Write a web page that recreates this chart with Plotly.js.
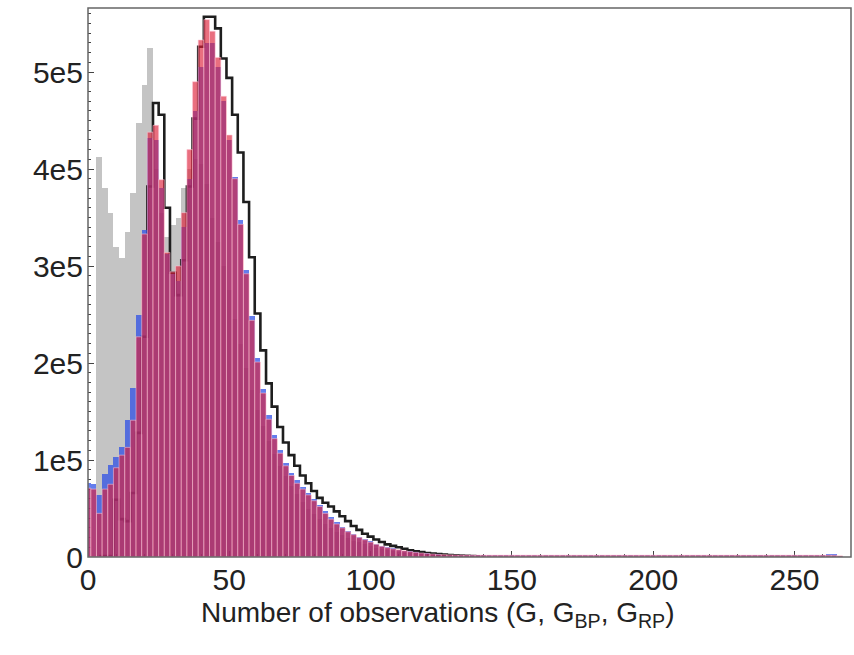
<!DOCTYPE html>
<html>
<head>
<meta charset="utf-8">
<script src="https://cdn.plot.ly/plotly-3.0.1.min.js"></script>
<style>html,body{margin:0;padding:0;background:#fff;}#chart{width:854px;height:655px;}</style>
</head>
<body>
<div id="chart"></div>
<script>
// Bin centres (bin width 2)
const binCenters = [0,2,4,6,8,10,12,14,16,18,20,22,24,26,28,30,32,34,36,38,40,42,44,46,48,50,52,54,56,58,60,62,64,66,68,70,72,74,76,78,80,82,84,86,88,90,92,94,96,98,100,102,104,106,108,110,112,114,116,118,120,122,124,126,128,130,132,134,136,138,140,142,144,146,148,150,152,154,156,158,160,162,164,166,168,170,172,174,176,178,180,182,184,186,188,190,192,194,196,198,200,202,204,206,208,210,212,214,216,218,220,222,224,226,228,230,232,234,236,238,240,242,244,246,248,250,252,254,256,258,260,262,264,266];

// Grey histogram (counts)
const greyCounts = [0,0,412000,380000,355000,320000,308000,335000,375000,447000,487000,525000,400000,355000,330000,342000,350000,380000,400000,410000,405000,385000,350000,325000,300000,275000,245000,220000,195000,172000,152000,135000,120000,106000,94000,83000,73000,65000,57000,50000,44000,39000,34000,30000,26000,23000,20000,17000,15000,13000,11000,9500,8000,7000,6000,5000,4300,3700,3100,2600,2200,1900,1600,1400,1200,1000,900,800,700,600,500,0,0,0,0,0,0,0,0,0,0,0,0,0,0,0,0,0,0,0,0,0,0,0,0,0,0,0,0,0,0,0,0,0,0,0,0,0,0,0,0,0,0,0,0,0,0,0,0,0,0,0,0,0,0,0,0,0,0,0,0,0,0,0];

// G_BP (blue)
const blueCounts = [76000,75000,64000,86000,95000,103000,113000,141000,174000,250000,337000,432000,430000,380000,312000,292000,285000,340000,390000,460000,505000,530000,530000,505000,470000,430000,392000,347000,296000,248000,205000,173000,146000,126000,110000,97000,87000,79000,72000,66000,60000,54000,47000,41000,36000,31000,27000,24000,21000,18500,16000,13500,11500,10000,8800,7700,6700,5800,5000,4300,3700,3200,2800,2500,2300,2200,2100,2100,2000,2000,2000,2000,2000,2000,2000,2000,2000,2000,2000,2000,2000,2000,2000,2000,2000,2000,2000,2000,2000,2000,2000,2000,2000,2000,2000,2000,2000,2000,2000,2000,2000,2000,2000,2000,2000,2000,2000,2000,2000,2000,2000,2000,2000,2000,2000,2000,2000,2000,2000,2000,2000,2000,2000,2000,2000,2000,2000,2000,2000,2100,2300,3000,2800,1500];

// G_RP (red)
const redCounts = [71000,70000,45000,70000,75000,92000,105000,113000,141000,227000,333000,438000,445000,389000,314000,294000,300000,355000,420000,490000,533000,554000,542000,515000,475000,435000,390000,343000,292000,244000,201000,169000,142000,122000,107000,94000,84000,76000,70000,64000,58000,52000,45000,39000,34000,30000,26000,23000,20000,17800,15300,13000,11000,9600,8400,7400,6400,5600,4800,4100,3600,3100,2700,2400,2200,2100,2000,2000,1900,1900,1900,1900,1900,1900,1900,1900,1900,1900,1900,1900,1900,1900,1900,1900,1900,1900,1900,1900,1900,1900,1900,1900,1900,1900,1900,1900,1900,1900,1900,1900,1900,1900,1900,1900,1900,1900,1900,1900,1900,1900,1900,1900,1900,1900,1900,1900,1900,1900,1900,1900,1900,1900,1900,1900,1900,1900,1900,1900,1900,1900,1900,1900,1800,1200];

// G (black step outline)
const blackCounts = [null,null,1000,1000,1000,59000,39000,37000,66000,128000,227000,382000,468000,456000,360000,293000,270000,306000,382000,452000,526000,557000,557000,545000,514000,494000,456000,417000,366000,309000,251000,213000,179000,155000,134000,118000,105000,94000,84000,76000,68000,61000,56000,52000,47000,42000,37000,32000,28000,24000,21000,18000,15500,13000,11500,10000,8500,7000,6000,5000,4200,3500,3000,2500,2000,1700,1400,1200,1000,800,600,null,null,null,null,null,null,null,null,null,null,null,null,null,null,null,null,null,null,null,null,null,null,null,null,null,null,null,null,null,null,null,null,null,null,null,null,null,null,null,null,null,null,null,null,null,null,null,null,null,null,null,null,null,null,null,null,null,null,null,null,null,null,null];

const xTickVals = [0,50,100,150,200,250];
const xTickText = ['0','50','100','150','200','250'];
const yTickVals = [0,100000,200000,300000,400000,500000];
const yTickText = ['0','1e5','2e5','3e5','4e5','5e5'];
const xTitle = 'Number of observations (G, G<sub>BP</sub>, G<sub>RP</sub>)';

const FONT = 'Liberation Sans, Arial, sans-serif';

const traces = [
  {type:'bar', x:binCenters, y:greyCounts, width:2, zorder:0,
   marker:{color:'rgb(196,196,196)', line:{width:0}}, hoverinfo:'skip'},
  {type:'scatter', mode:'lines', x:binCenters, y:blackCounts, zorder:1,
   line:{color:'#1e1e1e', width:2.6, shape:'hvh'}, connectgaps:false, hoverinfo:'skip'},
  {type:'bar', x:binCenters, y:blueCounts, width:2, zorder:2,
   marker:{color:'rgba(40,75,230,0.72)', line:{width:0}}, hoverinfo:'skip'},
  {type:'bar', x:binCenters, y:redCounts, width:2, zorder:3,
   marker:{color:'rgba(220,30,55,0.64)', line:{color:'rgba(255,200,215,0.6)', width:0.9}}, hoverinfo:'skip'}
];

const layout = {
  width:854, height:655,
  margin:{l:88, r:3, t:8, b:98},
  paper_bgcolor:'#fff', plot_bgcolor:'#fff',
  barmode:'overlay', bargap:0,
  showlegend:false,
  font:{family:FONT, color:'#222'},
  xaxis:{
    range:[0,270], showgrid:false, zeroline:false,
    showline:false,
    ticks:'inside', ticklen:6, tickcolor:'#444', tickwidth:1,
    tickvals:xTickVals, ticktext:xTickText, ticklabelstandoff:2,
    tickfont:{family:FONT, size:30, color:'#222'},
    minor:{ticks:'inside', dtick:10, ticklen:3, tickcolor:'#444', showgrid:false}
  },
  yaxis:{
    range:[0,566000], showgrid:false, zeroline:false,
    showline:false,
    ticks:'inside', ticklen:6, tickcolor:'#444', tickwidth:1,
    tickvals:yTickVals, ticktext:yTickText, ticklabelstandoff:4,
    tickfont:{family:FONT, size:30, color:'#222'},
    minor:{ticks:'inside', dtick:10000, ticklen:3, tickcolor:'#444', showgrid:false}
  },
  annotations:[
    {text:xTitle, xref:'paper', yref:'paper', x:0.459, y:-0.104, xanchor:'center', yanchor:'middle',
     showarrow:false, font:{family:FONT, size:28, color:'#222'}}
  ],
  shapes:[
    {type:'rect', xref:'paper', yref:'paper', x0:0, x1:1, y0:0, y1:1, layer:'above',
     line:{color:'#666', width:1.5}, fillcolor:'rgba(0,0,0,0)'}
  ]
};

Plotly.newPlot('chart', traces, layout, {displayModeBar:false, staticPlot:true});
</script>
</body>
</html>
